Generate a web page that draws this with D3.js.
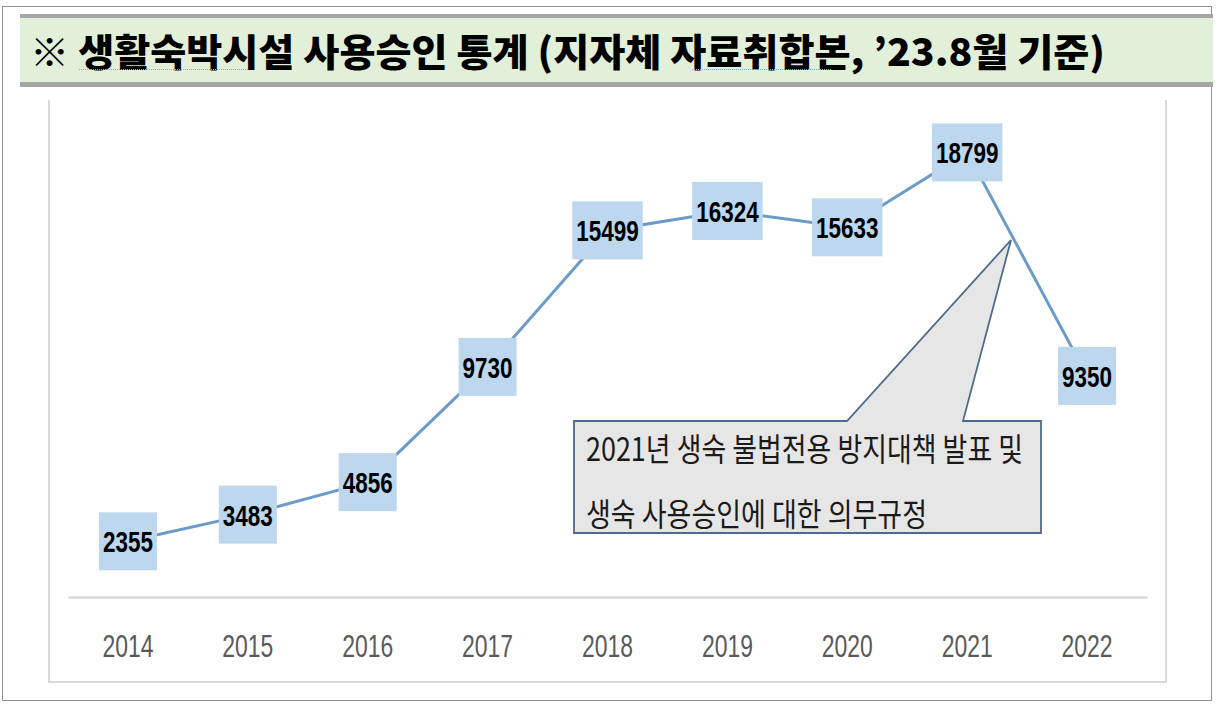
<!DOCTYPE html>
<html>
<head>
<meta charset="utf-8">
<script src="https://cdn.jsdelivr.net/npm/d3@7"></script>
<style>
  body { margin: 0; background: #fff; }
  svg { display: block; }
</style>
</head>
<body>
<div></div>
<script>
// data
var years = ["2014", "2015", "2016", "2017", "2018", "2019", "2020", "2021", "2022"];
var approvals = [2355, 3483, 4856, 9730, 15499, 16324, 15633, 18799, 9350];
var titleText = "※  생활숙박시설 사용승인 통계 (지자체 자료취합본, ’23.8월 기준)";
var noteLines = ["2021년 생숙 불법전용 방지대책 발표 및", "생숙 사용승인에 대한 의무규정"];

var W = 1219, H = 707;
var lineColor = "#6b9bc8";
var boxColor = "#bdd7ee";
var digitW = 12.5;  // condensed digit width in the labels

var svg = d3.select("div").append("svg")
    .attr("width", W)
    .attr("height", H);

// dotted page border
svg.append("rect")
    .attr("x", 2.5).attr("y", 6.5)
    .attr("width", 1209).attr("height", 694)
    .attr("fill", "none")
    .attr("stroke", "#222")
    .attr("stroke-width", 1)
    .attr("stroke-dasharray", "1,1");

// title band
svg.append("rect")
    .attr("x", 20).attr("y", 15)
    .attr("width", 1193).attr("height", 71)
    .attr("fill", "#e2f0d9");
svg.append("rect")
    .attr("x", 20).attr("y", 14)
    .attr("width", 1193).attr("height", 4)
    .attr("fill", "#a6a6a6");
svg.append("rect")
    .attr("x", 20).attr("y", 82)
    .attr("width", 1193).attr("height", 5)
    .attr("fill", "#a6a6a6");

svg.append("text")
    .attr("x", 30).attr("y", 66)
    .attr("font-family", "'Noto Sans CJK KR', sans-serif")
    .attr("font-weight", 900)
    .attr("font-size", 38)
    .attr("fill", "#000")
    .attr("textLength", 1075)
    .attr("lengthAdjust", "spacingAndGlyphs")
    .text(titleText);

// spell-check squiggles under two words
[[79, 248], [692, 832]].forEach(function(s) {
    svg.append("line")
        .attr("x1", s[0]).attr("x2", s[1])
        .attr("y1", 69.5).attr("y2", 69.5)
        .attr("stroke", "#c8a060")
        .attr("stroke-width", 1)
        .attr("stroke-dasharray", "1,1");
});

// chart frame (no top edge)
svg.append("path")
    .attr("d", "M49,100 V682 H1166 V100")
    .attr("fill", "none")
    .attr("stroke", "#d9d9d9")
    .attr("stroke-width", 2);

var x = d3.scaleBand()
    .domain(years)
    .range([68, 1147]);

var y = d3.scaleLinear()
    .domain([0, 20000])
    .range([597, 124]);

// x axis
var xAxis = svg.append("g")
    .attr("transform", "translate(0,597)")
    .call(d3.axisBottom(x).tickSize(0).tickPadding(38));
xAxis.select(".domain")
    .attr("stroke", "#d9d9d9")
    .attr("stroke-width", 2.5);
xAxis.selectAll("text")
    .attr("font-family", "'Liberation Sans', 'Noto Sans', sans-serif")
    .attr("font-size", 31)
    .attr("fill", "#595959")
    .attr("textLength", 51)
    .attr("lengthAdjust", "spacingAndGlyphs");

var cx = function(d, i) { return x(years[i]) + x.bandwidth() / 2; };

// the line
svg.append("path")
    .datum(approvals)
    .attr("fill", "none")
    .attr("stroke", lineColor)
    .attr("stroke-width", 3)
    .attr("d", d3.line()
        .x(cx)
        .y(function(d) { return y(d); }));

// callout
var tip = [1011, 240];
svg.append("path")
    .attr("d", "M574,421 H847 L" + tip[0] + "," + tip[1] + " L963,421 H1041 V533 H574 Z")
    .attr("fill", "#e7e6e6")
    .attr("stroke", "#4f6b8c")
    .attr("stroke-width", 1.8)
    .attr("stroke-linejoin", "miter");

svg.selectAll(".note")
    .data(noteLines)
    .enter().append("text")
    .attr("class", "note")
    .attr("x", 586)
    .attr("y", function(d, i) { return 461 + i * 65; })
    .attr("font-family", "'Noto Sans CJK KR', sans-serif")
    .attr("font-size", 32)
    .attr("fill", "#1a1a1a")
    .attr("textLength", function(d, i) { return i === 0 ? 437 : 341; })
    .attr("lengthAdjust", "spacingAndGlyphs")
    .text(function(d) { return d; });

// value labels in boxes
var labels = svg.selectAll(".lab")
    .data(approvals)
    .enter().append("g")
    .attr("class", "lab")
    .attr("transform", function(d, i) { return "translate(" + cx(d, i) + "," + y(d) + ")"; });

labels.append("rect")
    .attr("x", function(d) { return -(String(d).length * digitW + 8) / 2; })
    .attr("y", -29)
    .attr("width", function(d) { return String(d).length * digitW + 8; })
    .attr("height", 58)
    .attr("fill", boxColor);

labels.append("text")
    .attr("text-anchor", "middle")
    .attr("y", 11)
    .attr("font-family", "'Liberation Sans', sans-serif")
    .attr("font-weight", "bold")
    .attr("font-size", 30)
    .attr("fill", "#000")
    .attr("textLength", function(d) { return String(d).length * digitW; })
    .attr("lengthAdjust", "spacingAndGlyphs")
    .text(function(d) { return d; });
</script>
</body>
</html>
